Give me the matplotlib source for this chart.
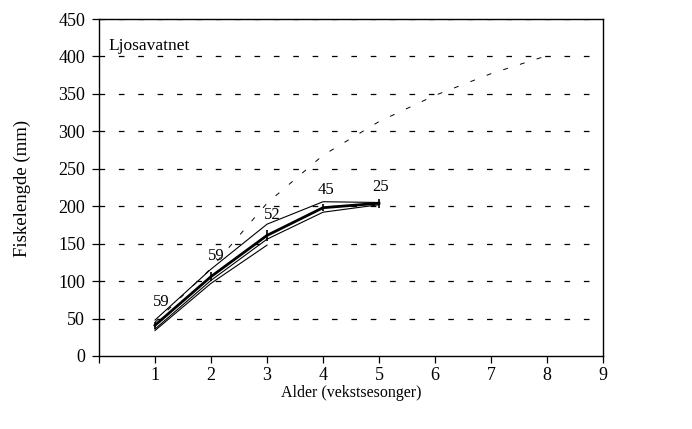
import matplotlib

matplotlib.use("Agg")
import matplotlib.pyplot as plt

# mean length per age (thick line) with error bars
ages = [1, 2, 3, 4, 5]
mean_len = [41, 106, 161, 198, 204]
err_len = [5, 6, 7, 5, 6]
upper_len = [48, 116, 176, 206, 205]
lower_len = [36, 101, 156, 192, 202]
extra_ages = [1, 2, 3]
extra_len = [34, 97, 148]

# number of fish per age, written above the lines
counts = ["59", "59", "52", "45", "25"]
count_x = [1.12, 2.1, 3.1, 4.05, 5.03]
count_y = [72, 133, 188, 221, 226]

# growth curve (dashed)
curve_ages = [1, 2, 3, 4, 5, 6, 7, 8]
curve_len = [45, 117, 204, 268, 313, 348, 377, 401]

plt.rcParams["font.family"] = ["Liberation Serif", "DejaVu Serif"]

fig = plt.figure(figsize=(6.92, 4.29), dpi=100)
ax = fig.add_axes([99 / 692, 73 / 429, 504 / 692, 337 / 429])

for y in range(50, 451, 50):
    ax.plot([0, 9], [y, y], color="black", lw=0.9,
            linestyle=(0, (4.5, 11)), zorder=1)

ax.plot(curve_ages, curve_len, color="black", lw=0.7,
        linestyle=(0, (5, 13)), zorder=2)
ax.plot(ages, upper_len, color="black", lw=0.8, zorder=3)
ax.plot(ages, lower_len, color="black", lw=0.8, zorder=3)
ax.plot(extra_ages, extra_len, color="black", lw=0.8, zorder=3)
ax.errorbar(ages, mean_len, yerr=err_len, color="black", lw=2.0,
            elinewidth=1.2, capsize=0, zorder=4)

for x, y, s in zip(count_x, count_y, counts):
    ax.text(x, y, s, ha="center", va="center", fontsize=12)

ax.text(9 / 504, (356 - 50) / 337, "Ljosavatnet", transform=ax.transAxes,
        ha="left", va="baseline", fontsize=12.5)

ax.set_xlim(0, 9)
ax.set_ylim(0, 450)
ax.set_xticks(range(0, 10))
ax.set_xticklabels([""] + [str(i) for i in range(1, 10)])
ax.set_yticks(range(0, 451, 50))
ax.tick_params(direction="out", length=5, width=0.9, labelsize=13,
               pad=5, colors="black")
ax.tick_params(axis="x", pad=3)
for sp in ax.spines.values():
    sp.set_linewidth(1.0)

fig.text(22 / 692, 1 - 188 / 429, "Fiskelengde (mm)", rotation=90,
         ha="center", va="center", fontsize=13.5)
fig.text(351 / 692, 1 - 393 / 429, "Alder (vekstsesonger)",
         ha="center", va="center", fontsize=11.5)

fig.savefig("out.png", dpi=100)
